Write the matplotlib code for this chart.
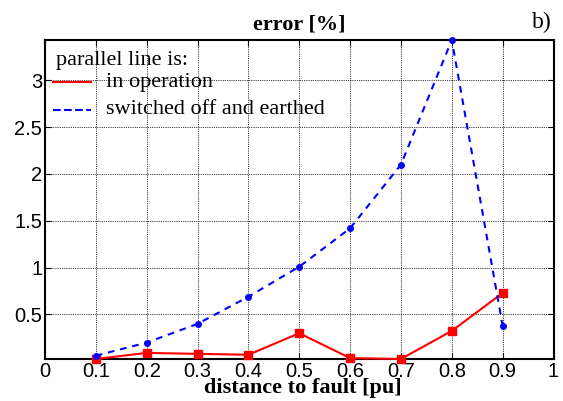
import matplotlib
matplotlib.use("Agg")
import matplotlib.pyplot as plt
from matplotlib.lines import Line2D

distance = [0.1, 0.2, 0.3, 0.4, 0.5, 0.6, 0.7, 0.8, 0.9]
err_operation = [0.025, 0.09, 0.08, 0.07, 0.30, 0.035, 0.025, 0.325, 0.73]
err_earthed = [0.06, 0.20, 0.40, 0.69, 1.01, 1.42, 2.10, 3.43, 0.38]
xticks = [0, 0.1, 0.2, 0.3, 0.4, 0.5, 0.6, 0.7, 0.8, 0.9, 1]
xticklabels = ["0", "0.1", "0.2", "0.3", "0.4", "0.5", "0.6", "0.7", "0.8", "0.9", "1"]
yticks = [0.5, 1, 1.5, 2, 2.5, 3]
yticklabels = ["0.5", "1", "1.5", "2", "2.5", "3"]
labels = ["in operation", "switched off and earthed"]

W, H = 563, 401
fig = plt.figure(figsize=(W / 100, H / 100), dpi=100)
L, R, T, B = 45, 553.5, 40, 359
ax = fig.add_axes([L / W, 1 - B / H, (R - L) / W, (B - T) / H])

red_line, = ax.plot(distance, err_operation, color="red", lw=1.5, marker="s", ms=5.2,
                    label=labels[0], clip_on=False, zorder=3)
blue_line, = ax.plot(distance, err_earthed, color="blue", lw=1.5, ls=(0, (3.2, 2.8)),
                     marker="o", ms=4, label=labels[1], clip_on=False, zorder=3)

ax.set_xlim(0, 1)
ax.set_ylim(0.025, 3.43)
ax.set_xticks(xticks)
ax.set_xticklabels(xticklabels, family="Liberation Sans", fontsize=14.5)
ax.set_yticks(yticks)
ax.set_yticklabels(yticklabels, family="Liberation Sans", fontsize=14.5)
ax.tick_params(axis="x", direction="in", top=True, length=4, width=0.8, pad=2)
ax.tick_params(axis="y", direction="in", right=True, length=4, width=0.8, pad=2)
ax.grid(True, color="black", ls=(0, (1, 1.2)), lw=0.6)
for s in ax.spines.values():
    s.set_linewidth(1.5)

fig.text(299 / W, 1 - 25 / H, "error [%]", family="Liberation Serif", fontweight="bold",
         fontsize=16, ha="center", va="center")
fig.text(303 / W, 1 - 388 / H, "distance to fault [pu]", family="Liberation Serif",
         fontweight="bold", fontsize=16, ha="center", va="center")
fig.text(542 / W, 1 - 22 / H, "b)", family="Liberation Serif", fontsize=17,
         ha="center", va="center")

# legend (no frame), placed like the reference
fig.text(56 / W, 1 - 60 / H, "parallel line is:", family="Liberation Serif", fontsize=16,
         ha="left", va="center")
for line, yy, lab in [(red_line, 82, labels[0]), (blue_line, 110, labels[1])]:
    fig.add_artist(Line2D([53 / W, 91 / W], [1 - yy / H, 1 - yy / H], color=line.get_color(),
                          lw=1.5, ls=line.get_linestyle(), transform=fig.transFigure))
    fig.text(106 / W, 1 - yy / H, lab, family="Liberation Serif", fontsize=16,
             ha="left", va="center")

fig.savefig("out.png", dpi=100)
